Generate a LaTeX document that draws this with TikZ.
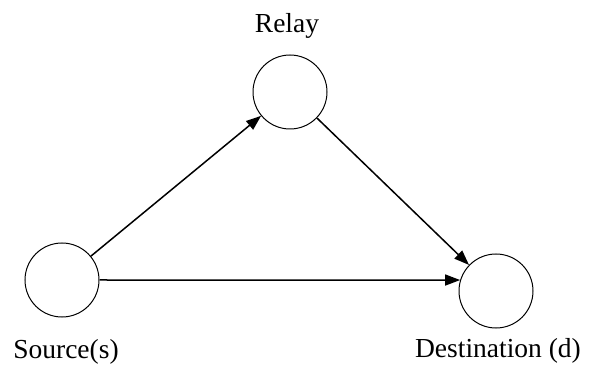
\documentclass[tikz,border=0pt]{standalone}
\usepackage{fontspec}
\setmainfont{Liberation Serif}
\usetikzlibrary{arrows.meta}
\begin{document}
\begin{tikzpicture}[x=1pt,y=-1pt,
  nodecirc/.style={circle,draw=black,line width=1pt,minimum size=74pt,inner sep=0pt},
  lbl/.style={anchor=base,font=\fontsize{27.5}{30}\selectfont,inner sep=0pt},
  conn/.style={line width=1.5pt,-{Triangle[length=15pt,width=11pt]}}]
\useasboundingbox (0,0) rectangle (595,366);
\node[nodecirc] (s) at (62,280) {};
\node[nodecirc] (r) at (290,92) {};
\node[nodecirc] (d) at (496,291) {};
\node[lbl] (rl) at (287,33) {Relay};
\node[lbl] (sl) at (66,359) {Source(s)};
\node[lbl] (dl) at (498,358) {Destination (d)};
\draw[conn] (s) -- (r);
\draw[conn] (r) -- (d);
\draw[conn] (s.east) -- (d.163);
\end{tikzpicture}
\end{document}
